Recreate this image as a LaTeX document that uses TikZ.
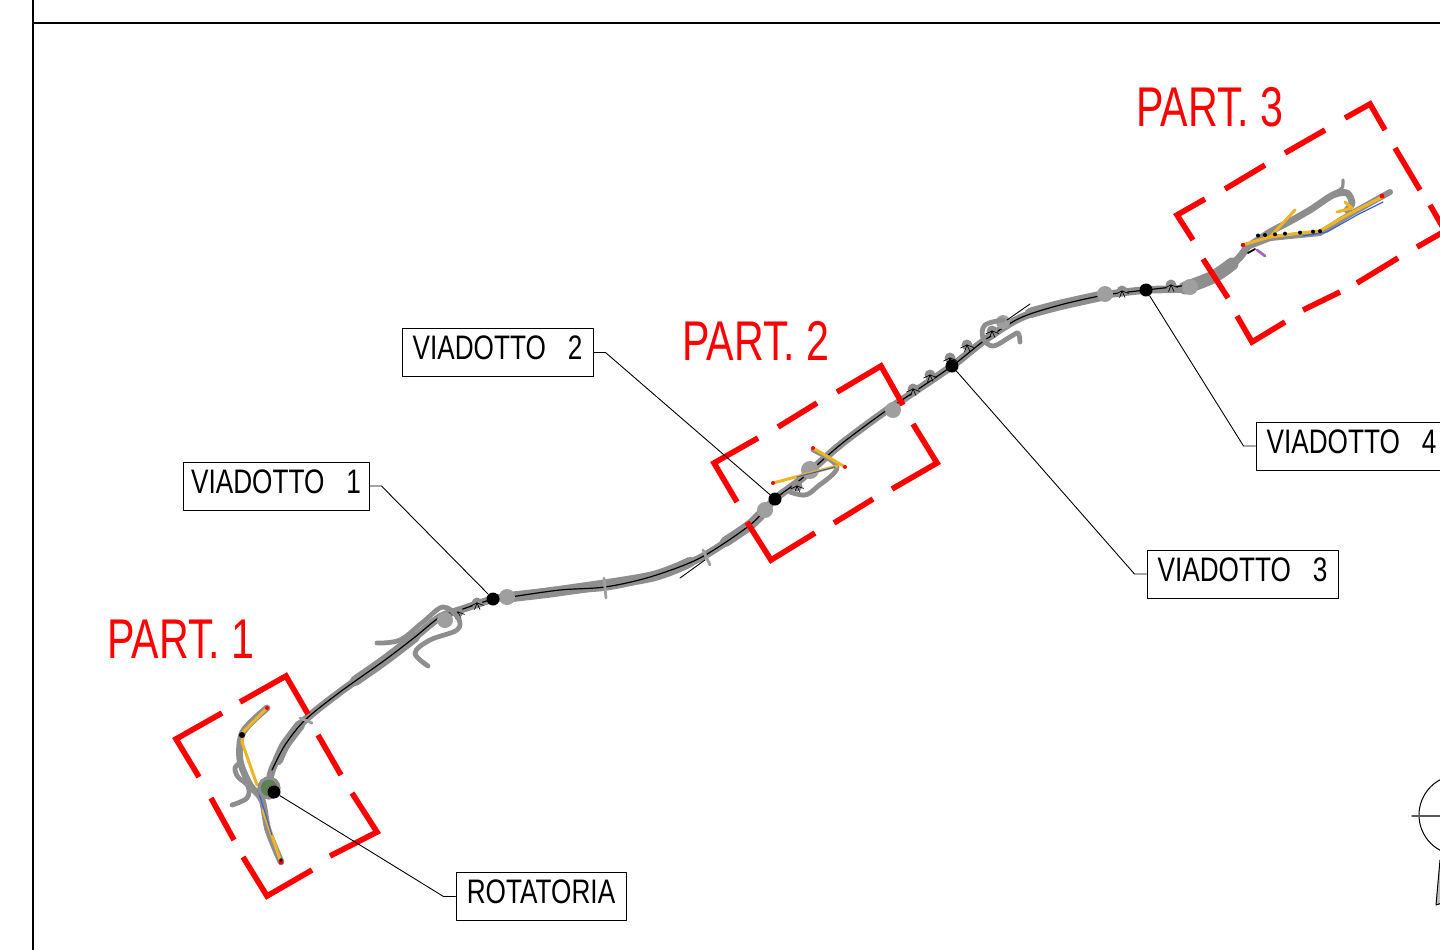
\documentclass[tikz,border=0pt]{standalone}
\usepackage{fontspec}
\setmainfont[FakeStretch=0.77]{Liberation Sans}
\newfontfamily\partfont[FakeStretch=0.735]{Liberation Sans}
\definecolor{roadgray}{HTML}{8E8E8E}
\definecolor{rampyellow}{HTML}{EDB426}
\definecolor{rampblue}{HTML}{3C62C8}
\definecolor{ramppurple}{HTML}{9A6CC0}
\definecolor{ringgreen}{HTML}{5F7F55}
\newcommand{\viagap}{\hspace{11pt}}
\tikzset{
  label box/.style={draw, line width=0.5pt, minimum height=24pt, inner sep=0pt, text depth=3pt, text height=10pt, font=\fontsize{17}{17}\selectfont},
  part label/.style={text=red, inner sep=0pt, font=\partfont\fontsize{28}{28}\selectfont},
  pier dot/.style={circle, fill=black, inner sep=0pt, minimum size=6.5pt},
  leader/.style={line width=0.45pt},
  part frame/.style={red, line width=2.8pt, line cap=butt, line join=miter},
  road/.style={roadgray, line width=3.8pt},
  wide road/.style={roadgray, line width=5.2pt},
  core/.style={black, line width=0.6pt},
  branch/.style={roadgray, line width=2.4pt},
  ramp/.style={rampyellow, line width=1.5pt},
  ramp blue/.style={rampblue, line width=0.6pt},
  tick/.style={roadgray!85, line width=1.4pt}
}
\begin{document}
\begin{tikzpicture}[line cap=round, line join=round, x=0.5pt, y=-0.5pt]
  \useasboundingbox (0,0) rectangle (1440,949);
  \clip (0,0) rectangle (1440,949);

  % sheet border
  \draw[line width=1.2pt] (33,-5) -- (33,955);
  \draw[line width=0.6pt] (33,23) -- (1445,23);

  % main road
  \draw[road] plot[smooth, tension=0.5] coordinates {(268,790) (272,770) (285,745) (305,720) (340,692) (385,660) (415,637) (440,617) (460,610) (493,599) (510,597) (560,590) (605,587) (650,577) (700,558) (750,525) (775,499) (800,480) (840,445) (880,415) (905,398) (952,366) (985,340) (1020,318) (1060,305) (1105,295) (1146,290) (1190,288) (1213,277) (1237,260) (1247,247)};
  \draw[wide road] plot[smooth, tension=0.5] coordinates {(278,760) (285,745) (300,725)};
  \draw[wide road] plot[smooth, tension=0.5] coordinates {(355,681) (385,660) (415,637)};
  \draw[wide road] plot[smooth, tension=0.5] coordinates {(510,597) (560,591) (650,577) (690,562)};
  \draw[wide road] plot[smooth, tension=0.5] coordinates {(725,542) (750,525) (765,510)};
  \draw[wide road] plot[smooth, tension=0.5] coordinates {(1030,313) (1060,305) (1105,295)};
  \draw[wide road, line width=6.5pt] plot[smooth, tension=0.5] coordinates {(1185,288) (1213,277) (1232,264)};
  \draw[core] plot[smooth, tension=0.5] coordinates {(272,770) (285,745) (305,720) (340,692) (385,660) (415,637) (440,617) (460,610) (493,599) (510,597) (560,590) (605,587) (650,577) (700,558) (750,525) (775,499) (800,480) (840,445) (880,415) (905,398) (952,366) (985,340) (1020,318) (1060,305) (1105,295) (1146,290) (1190,285)};

  % widenings
  \foreach \x/\y/\r in {507/597/8, 445/620/8, 765/510/8, 893/410/8, 1105/294/8, 1190/287/8, 810/470/9, 1003/322/7} {
    \fill[roadgray!85] (\x,\y) circle (\r);
  }

  % small fans
  \foreach \x/\y in {477/603, 458/612, 913/389, 930/375, 950/358, 967/345, 992/331, 1122/291, 1171/285, 797/486} {
    \fill[roadgray] (\x,\y) circle (5.5);
    \foreach \a in {20,65,110,155} {
      \draw[black, line width=0.35pt] (\x,\y) -- ++(\a:7);
    }
  }

  % cross ticks
  \draw[tick] (604,578) -- (606,598);
  \draw[tick] (703,550) -- (710,565);
  \draw[tick] (300,718) -- (312,723);
  \draw[core, line width=0.45pt] (680,578) -- (705,560);
  \draw[core, line width=0.45pt] (1007,320) -- (1030,304);

  % part 1
  \draw[road, line width=3.4pt] plot[smooth, tension=0.5] coordinates {(267,708) (243,732) (240,760) (250,785) (262,800) (268,830) (281,862)};
  \draw[branch] plot[smooth, tension=0.6] coordinates {(232,805) (247,798) (248,786) (238,777) (235,768) (240,763)};
  \draw[ramp] (267,708) -- (243,732) -- (242,742) -- (257,785);
  \draw[ramp] (263,810) -- (281,862);
  \draw[ramp blue] (258,790) -- (272,835);
  \fill[black] (242,735) circle (3);
  \fill[red] (267,708) circle (2);
  \fill[red] (281,862) circle (2.5);
  \fill[black] (281,860) circle (1.8);
  \draw[roadgray, line width=1.6pt, fill=ringgreen] (269,788) circle (10);

  % interchange after viaduct 1
  \draw[branch] plot[smooth, tension=0.6] coordinates {(377,643) (400,640) (423,622) (443,607) (458,618) (457,630) (430,640) (415,653) (428,666)};

  % part 2
  \draw[branch] plot[smooth, tension=0.6] coordinates {(790,492) (805,495) (817,487) (837,467) (813,450)};
  \draw[ramp] (773,483) -- (837,466);
  \draw[ramp] (813,448) -- (845,467);
  \draw[ramp blue] (797,477) -- (835,467);
  \fill[red] (773,483) circle (2);
  \fill[red] (813,448) circle (2);
  \fill[red] (845,467) circle (2);

  % loop before viaduct 4
  \draw[branch] plot[smooth, tension=0.6] coordinates {(1003,320) (985,325) (983,338) (993,346) (1010,337) (1018,333) (1020,342)};

  % part 3
  \draw[road, line width=3.4pt] plot[smooth, tension=0.5] coordinates {(1247,247) (1270,232) (1287,223) (1310,210) (1333,195) (1347,193) (1352,203) (1347,210)};
  \draw[branch, line width=1.6pt] plot[smooth, tension=0.5] coordinates {(1333,193) (1342,188) (1343,180)};
  \draw[road, line width=3pt] (1247,247) -- (1270,238) -- (1320,233) -- (1347,216) -- (1390,192);
  \draw[ramp] (1242,245) -- (1270,237) -- (1300,233) -- (1320,231) -- (1347,215) -- (1382,197);
  \draw[ramp] (1270,237) -- (1295,210);
  \draw[ramp] (1337,212) -- (1352,208) -- (1345,202);
  \draw[ramp blue] (1303,236) -- (1327,232) -- (1357,215) -- (1383,202);
  \draw[ramppurple, line width=1.4pt] (1257,250) -- (1265,256);
  \foreach \x in {1258,1265,1275,1285,1300,1313,1320} {
    \fill[black] (\x,{235.5-(\x-1258)*0.07}) circle (2);
  }
  \draw[black, line width=0.9pt] (1255,249) -- (1248,253);
  \fill[red] (1243,245) circle (2.2);
  \fill[red] (1382,196) circle (2.4);

  % dashed limits of the parts
  \draw[part frame] (222,713) -- (176,739) -- (199,777) (211,798) -- (234,840) (243,857) -- (267,896) -- (312,870) (330,856) -- (377,832) -- (352,793) (341,775) -- (318,735) (308,714) -- (286,676) -- (240,702);
  \draw[part frame] (758,438) -- (714,463) -- (737,502) (747,522) -- (771,560) -- (815,533) (834,523) -- (873,499) (892,489) -- (937,463) -- (913,424) (903,405) -- (881,366) -- (837,392) (817,403) -- (778,427);
  \draw[part frame] (1205,199) -- (1177,215) -- (1193,240) (1203,259) -- (1228,298) (1237,316) -- (1252,342) -- (1285,322) (1303,310) -- (1340,292) (1357,283) -- (1398,258) (1417,247) -- (1445,231) -- (1430,205) (1420,190) -- (1395,148) (1385,130) -- (1370,104) -- (1345,118) (1325,130) -- (1285,153) (1265,165) -- (1225,189);

  \node[part label] (part1) at (181,639) {PART. 1};
  \node[part label] (part2) at (756,341) {PART. 2};
  \node[part label] (part3) at (1210,107) {PART. 3};

  % piers
  \node[pier dot] (rot) at (274,792) {};
  \node[pier dot] (via1) at (493,599) {};
  \node[pier dot] (via2) at (775,499) {};
  \node[pier dot] (via3) at (952,366) {};
  \node[pier dot] (via4) at (1146,290) {};

  % labels
  \node[label box, minimum width=93pt] (box1) at (276,486) {VIADOTTO\viagap 1};
  \node[label box, minimum width=95.5pt] (box2) at (497.5,352.5) {VIADOTTO\viagap 2};
  \node[label box, minimum width=95.5pt] (box3) at (1242.5,574) {VIADOTTO\viagap 3};
  \node[label box, minimum width=95.5pt] (box4) at (1351.5,446) {VIADOTTO\viagap 4};
  \node[label box, minimum width=85pt] (boxrot) at (541,896.5) {ROTATORIA};

  \draw[leader] (box1.east) -- ++(12,0) -- (via1);
  \draw[leader] (box2.east) -- ++(12,0) -- (via2);
  \draw[leader] (box3.west) -- ++(-12,0) -- (via3);
  \draw[leader] (box4.west) -- ++(-12,0) -- (via4);
  \draw[leader] (boxrot.west) -- ++(-12,0) -- (rot);

  % north arrow, cut by the sheet
  \draw[line width=0.5pt] (1459,815) circle (40);
  \draw[black!65, line width=0.7pt] (1412,816) -- (1445,816);
  \draw[line width=0.5pt, fill=black!25] (1440,860) -- (1436,905) -- (1445,902) -- cycle;
\end{tikzpicture}
\end{document}
